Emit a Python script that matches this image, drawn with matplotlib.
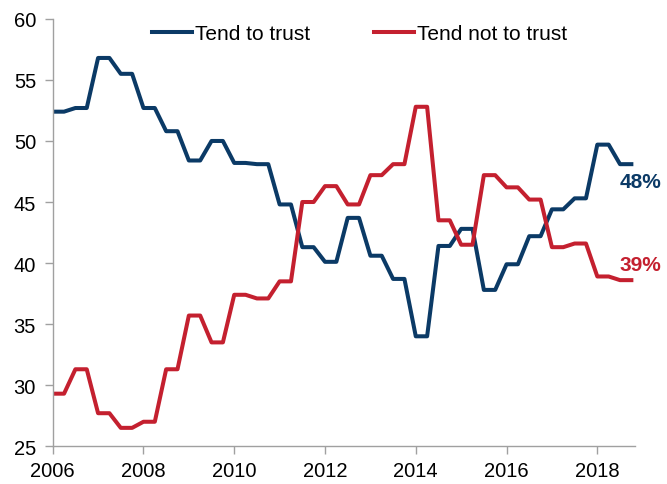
import numpy as np
import matplotlib
matplotlib.use("Agg")
import matplotlib.pyplot as plt

plt.rcParams['font.family'] = ['Liberation Sans', 'DejaVu Sans']

# Quarterly positions, each survey value is shown over two quarters
years = np.arange(2006, 2019, 0.25)

trust = [52.4, 52.4, 52.7, 52.7, 56.8, 56.8, 55.5, 55.5,
         52.7, 52.7, 50.8, 50.8, 48.4, 48.4, 50.0, 50.0,
         48.2, 48.2, 48.1, 48.1, 44.8, 44.8, 41.3, 41.3,
         40.1, 40.1, 43.7, 43.7, 40.6, 40.6, 38.7, 38.7,
         34.0, 34.0, 41.4, 41.4, 42.8, 42.8, 37.8, 37.8,
         39.9, 39.9, 42.2, 42.2, 44.4, 44.4, 45.3, 45.3,
         49.7, 49.7, 48.1, 48.1]

not_trust = [29.3, 29.3, 31.3, 31.3, 27.7, 27.7, 26.5, 26.5,
             27.0, 27.0, 31.3, 31.3, 35.7, 35.7, 33.5, 33.5,
             37.4, 37.4, 37.1, 37.1, 38.5, 38.5, 45.0, 45.0,
             46.3, 46.3, 44.8, 44.8, 47.2, 47.2, 48.1, 48.1,
             52.8, 52.8, 43.5, 43.5, 41.5, 41.5, 47.2, 47.2,
             46.2, 46.2, 45.2, 45.2, 41.3, 41.3, 41.6, 41.6,
             38.9, 38.9, 38.6, 38.6]

blue = "#0B3A66"
red = "#C4202F"

fig = plt.figure(figsize=(6.67, 4.85), dpi=100)
ax = fig.add_axes([0.079, 0.078, 0.873, 0.881])

ax.plot(years, trust, color=blue, lw=2.9, label="Tend to trust")
ax.plot(years, not_trust, color=red, lw=2.9, label="Tend not to trust")

ax.set_xlim(2006, 2018.83)
ax.set_ylim(25, 60)
ax.set_xticks(range(2006, 2019, 2))
ax.set_yticks(range(25, 61, 5))

for s in ["top", "right"]:
    ax.spines[s].set_visible(False)
for s in ["left", "bottom"]:
    ax.spines[s].set_color("#A0A0A0")
    ax.spines[s].set_linewidth(1.0)
ax.tick_params(colors="#A0A0A0", labelcolor="black", labelsize=14.5, length=6, width=1.0)
ax.tick_params(axis="x", pad=5)
ax.tick_params(axis="y", pad=6)

# end labels
ax.annotate("48%", xy=(years[-1], trust[-1]), xytext=(-12, -17), textcoords="offset pixels",
            color=blue, fontsize=15, fontweight="bold", va="center", ha="left",
            annotation_clip=False)
ax.annotate("39%", xy=(years[-1], not_trust[-1]), xytext=(-12, 16), textcoords="offset pixels",
            color=red, fontsize=15, fontweight="bold", va="center", ha="left",
            annotation_clip=False)

fig.legend(loc="center left", bbox_to_anchor=(152 / 667, 1 - 35 / 485),
           bbox_transform=fig.transFigure, ncol=2, frameon=False,
           fontsize=15, handlelength=1.9, handletextpad=0.15, columnspacing=3.1,
           borderpad=0, borderaxespad=0)

fig.savefig("out.png", dpi=100)
